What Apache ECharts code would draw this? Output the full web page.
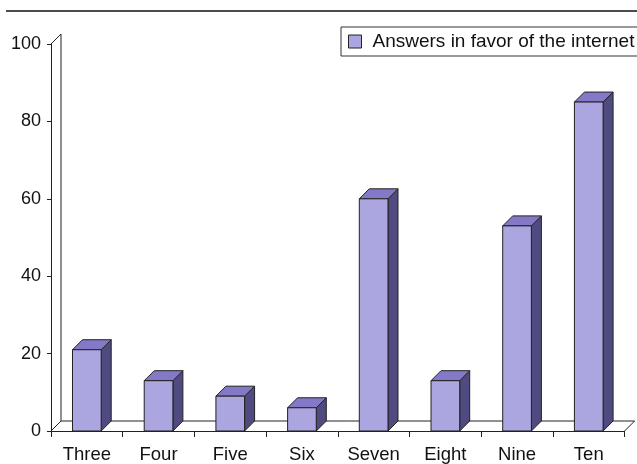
<!DOCTYPE html>
<html>
<head>
<meta charset="utf-8">
<script src="https://cdn.jsdelivr.net/npm/echarts@6/dist/echarts.min.js"></script>
<style>
  html, body { margin: 0; padding: 0; background: #fff; }
  #chart { width: 637px; height: 464px; }
</style>
</head>
<body>
<div id="chart"></div>
<script>
const categories = ["Three", "Four", "Five", "Six", "Seven", "Eight", "Nine", "Ten"];
const answers = [21, 13, 9, 6, 60, 13, 53, 85];
const yTicks = [0, 20, 40, 60, 80, 100];
const seriesName = "Answers in favor of the internet";

const DEPTH = 10; // 3d offset in px
const FONT = "Liberation Sans, Arial, sans-serif";

const chart = echarts.init(document.getElementById("chart"));

// back wall + floor outline
const renderFrame = (params, api) => {
  const cs = params.coordSys;
  const x = cs.x, y = cs.y, w = cs.width, h = cs.height;
  const line = (x1, y1, x2, y2) => ({
    type: "line",
    shape: { x1, y1, x2, y2 },
    style: { stroke: "#222", lineWidth: 1 },
  });
  return {
    type: "group",
    children: [
      line(x, y, x + DEPTH, y - DEPTH),
      line(x + DEPTH, y - DEPTH, x + DEPTH, y + h - DEPTH),
      line(x, y + h, x + DEPTH, y + h - DEPTH),
      line(x + DEPTH, y + h - DEPTH, x + w + DEPTH, y + h - DEPTH),
      line(x + w, y + h, x + w + DEPTH, y + h - DEPTH),
    ],
  };
};

const renderBar = (params, api) => {
  const idx = api.value(0);
  const val = api.value(1);
  const base = api.coord([idx, 0]);
  const top = api.coord([idx, val]);
  const bw = api.size([1, 0])[0] * 0.4;
  const x0 = base[0] - bw / 2;
  const x1 = base[0] + bw / 2;
  const yb = base[1];
  const yt = top[1];
  const stroke = { stroke: "#222", lineWidth: 1, lineJoin: "round" };
  return {
    type: "group",
    children: [
      {
        type: "polygon",
        shape: { points: [[x1, yt], [x1 + DEPTH, yt - DEPTH], [x1 + DEPTH, yb - DEPTH], [x1, yb]] },
        style: Object.assign({ fill: "#4f4a80" }, stroke),
      },
      {
        type: "polygon",
        shape: { points: [[x0, yt], [x0 + DEPTH, yt - DEPTH], [x1 + DEPTH, yt - DEPTH], [x1, yt]] },
        style: Object.assign({ fill: "#8479c6" }, stroke),
      },
      {
        type: "rect",
        shape: { x: x0, y: yt, width: bw, height: yb - yt },
        style: Object.assign({ fill: "#aba5e0" }, stroke),
      },
    ],
  };
};

const option = {
  animation: false,
  textStyle: { fontFamily: FONT },
  graphic: [
    {
      type: "line",
      shape: { x1: 6, y1: 11, x2: 637, y2: 11 },
      style: { stroke: "#111", lineWidth: 1.5 },
    },
  ],
  legend: {
    data: [seriesName],
    left: 341,
    top: 27,
    padding: [5, 8, 5, 7],
    borderColor: "#333",
    borderWidth: 1,
    icon: "rect",
    itemWidth: 13,
    itemHeight: 13,
    itemStyle: { borderColor: "#222", borderWidth: 1 },
    textStyle: { fontSize: 19, color: "#111", fontFamily: FONT, padding: [0, 0, 0, 6] },
  },
  grid: { left: 51, right: 12.4, top: 44, bottom: 31 },
  xAxis: {
    type: "category",
    data: categories,
    boundaryGap: true,
    axisLine: { show: true, lineStyle: { color: "#222", width: 1 } },
    axisTick: { show: true, length: 6, lineStyle: { color: "#222" } },
    axisLabel: { color: "#111", fontSize: 18.5, margin: 14, fontFamily: FONT },
    splitLine: { show: false },
  },
  yAxis: {
    type: "value",
    min: yTicks[0],
    max: yTicks[yTicks.length - 1],
    interval: 20,
    axisLine: { show: true, lineStyle: { color: "#222", width: 1 } },
    axisTick: { show: true, length: 4, lineStyle: { color: "#222" } },
    axisLabel: { color: "#111", fontSize: 18, margin: 10, fontFamily: FONT },
    splitLine: { show: false },
  },
  series: [
    {
      type: "custom",
      name: "frame",
      renderItem: renderFrame,
      data: [[0, 0]],
      z: 1,
      silent: true,
    },
    {
      type: "custom",
      name: seriesName,
      itemStyle: { color: "#aba5e0" },
      renderItem: renderBar,
      encode: { x: 0, y: 1 },
      data: answers.map((v, i) => [i, v]),
      z: 2,
    },
  ],
};

chart.setOption(option);
</script>
</body>
</html>
